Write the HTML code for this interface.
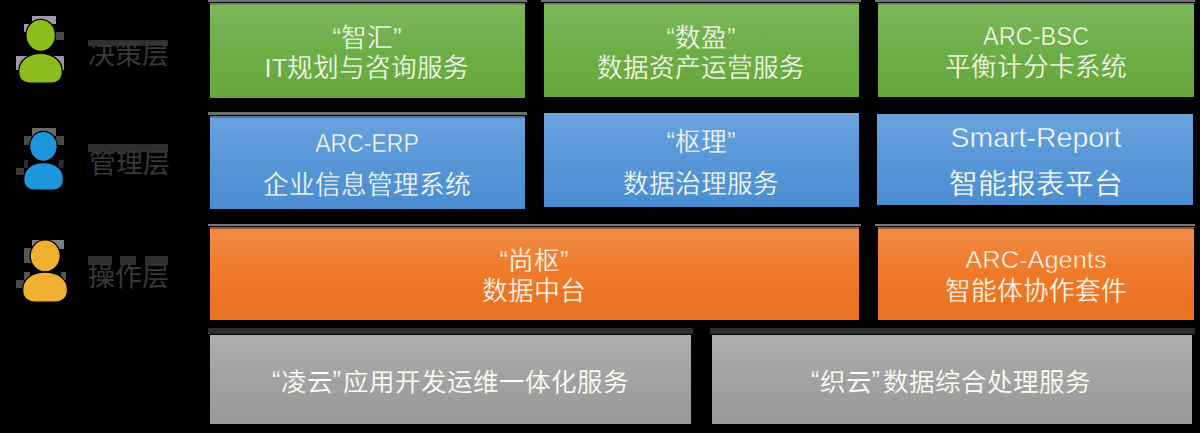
<!DOCTYPE html>
<html lang="zh-CN">
<head>
<meta charset="utf-8">
<style>
html,body{margin:0;padding:0;background:#000;}
body{width:1200px;height:433px;position:relative;overflow:hidden;font-family:"Liberation Sans",sans-serif;}
.strip{position:absolute;}
.box{position:absolute;box-sizing:border-box;}
.g{background:linear-gradient(#7db75c 0%,#6faf49 45%,#66a63a 100%);box-shadow:inset 0 2px #5e9444;}
.b{background:linear-gradient(#6ba2de 0%,#5898d8 45%,#4a8dd0 100%);}
.b1{box-shadow:inset 0 2px #5574a0;}
.o{background:linear-gradient(#ef8c4a 0%,#f07b2a 45%,#e8701f 100%);box-shadow:inset 0 2px #9a5a2a;}
.y{background:linear-gradient(#aeaeae 0%,#a4a4a4 40%,#989898 100%);}
.t{position:absolute;white-space:nowrap;color:#fbfff4;line-height:1;transform:translateX(-50%);}
.lab{position:absolute;white-space:nowrap;color:#383838;font-size:27px;line-height:1;}
.lb{position:absolute;background:#2e2e2e;}
.q{position:relative;top:-1.5px;}
</style>
</head>
<body>
<!-- row 1 strips -->
<div class="strip" style="left:208px;top:0;width:319px;height:2px;background:#787078"></div>
<div class="strip" style="left:541px;top:0;width:320px;height:2px;background:#787078"></div>
<div class="strip" style="left:875px;top:0;width:320px;height:2px;background:#787078"></div>
<!-- row 1 boxes -->
<div class="box g" style="left:210px;top:3px;width:315px;height:94.5px"></div>
<div class="box g" style="left:543.5px;top:3px;width:315.5px;height:94px"></div>
<div class="box g" style="left:877.5px;top:3px;width:316px;height:94px"></div>

<!-- row 2 -->
<div class="strip" style="left:208px;top:112px;width:319px;height:2.7px;background:#6b6f6a"></div>
<div class="box b b1" style="left:210px;top:116px;width:315px;height:92.5px"></div>
<div class="box b" style="left:543.5px;top:113px;width:315.5px;height:93.5px"></div>
<div class="box b" style="left:877px;top:114px;width:316px;height:91px"></div>

<!-- row 3 -->
<div class="strip" style="left:208px;top:224px;width:653px;height:2px;background:#7d767d"></div>
<div class="strip" style="left:875px;top:224px;width:320px;height:2px;background:#7d767d"></div>
<div class="box o" style="left:210px;top:227px;width:649px;height:92.7px"></div>
<div class="box o" style="left:877.5px;top:227px;width:316px;height:92.7px"></div>

<!-- row 4 -->
<div class="strip" style="left:208px;top:328px;width:485px;height:6px;background:#2e2e2e"></div>
<div class="strip" style="left:710px;top:328px;width:485px;height:6px;background:#2e2e2e"></div>
<div class="box y" style="left:210px;top:335px;width:481px;height:89px"></div>
<div class="box y" style="left:711.8px;top:335px;width:480.7px;height:89px"></div>

<!-- texts -->
<div class="t" style="-webkit-text-stroke:0.3px #71b04c;left:367px;top:26.4px;font-size:25.7px"><span class="q">“</span>智汇<span class="q">”</span></div>
<div class="t" style="-webkit-text-stroke:0.3px #6bab42;left:367px;top:56.4px;font-size:25.7px">IT规划与咨询服务</div>
<div class="t" style="-webkit-text-stroke:0.3px #71b04c;left:701px;top:26.4px;font-size:25.7px"><span class="q">“</span>数盈<span class="q">”</span></div>
<div class="t" style="-webkit-text-stroke:0.3px #6bab42;left:701px;top:56.2px;font-size:25.7px">数据资产运营服务</div>
<div class="t" style="-webkit-text-stroke:0.5px #71b04c;left:1035.5px;top:24px;font-size:25.7px;transform:translateX(-50%) scaleX(0.917)">ARC-BSC</div>
<div class="t" style="-webkit-text-stroke:0.3px #6bab42;left:1035.5px;top:55.4px;font-size:25.7px">平衡计分卡系统</div>

<div class="t" style="-webkit-text-stroke:0.5px #5f9cda;left:367px;top:131px;font-size:25.7px;transform:translateX(-50%) scaleX(0.895)">ARC-ERP</div>
<div class="t" style="-webkit-text-stroke:0.3px #5192d4;left:367px;top:172.9px;font-size:25.7px">企业信息管理系统</div>
<div class="t" style="-webkit-text-stroke:0.3px #5f9cda;left:701px;top:130.4px;font-size:25.7px"><span class="q">“</span>枢理<span class="q">”</span></div>
<div class="t" style="-webkit-text-stroke:0.3px #5192d4;left:701px;top:172.2px;font-size:25.7px">数据治理服务</div>
<div class="t" style="-webkit-text-stroke:0.5px #5f9cda;left:1035.5px;top:123.5px;font-size:28px;transform:translateX(-50%) scaleX(1.017)">Smart-Report</div>
<div class="t" style="-webkit-text-stroke:0.3px #5192d4;left:1035.5px;top:169.9px;font-size:28.8px">智能报表平台</div>

<div class="t" style="-webkit-text-stroke:0.3px #f07e30;left:534px;top:249px;font-size:25.7px"><span class="q">“</span>尚枢<span class="q">”</span></div>
<div class="t" style="-webkit-text-stroke:0.3px #ed7625;left:534px;top:279px;font-size:25.7px">数据中台</div>
<div class="t" style="-webkit-text-stroke:0.5px #f07e30;left:1035.5px;top:249px;font-size:23px;transform:translateX(-50%) scaleX(1.105)">ARC-Agents</div>
<div class="t" style="-webkit-text-stroke:0.3px #ed7625;left:1035.5px;top:279.2px;font-size:25.7px">智能体协作套件</div>

<div class="t" style="-webkit-text-stroke:0.15px #a2a2a2;left:450.5px;top:369.7px;font-size:25.5px"><span class="q">“</span>凌云<span class="q" style="margin-right:2px">”</span>应用开发运维一体化服务</div>
<div class="t" style="-webkit-text-stroke:0.15px #a2a2a2;left:951px;top:369.9px;font-size:25.5px"><span class="q">“</span>织云<span class="q" style="margin-right:3px">”</span>数据综合处理服务</div>

<!-- labels -->
<div class="lb" style="left:88px;top:40px;width:80px;height:5.5px"></div>
<div class="lab" style="left:88px;top:42px">决策层</div>
<div class="lb" style="left:88px;top:144px;width:80px;height:7.5px"></div>
<div class="lab" style="left:89px;top:151px">管理层</div>
<div class="lb" style="left:88px;top:256px;width:23.6px;height:9px"></div>
<div class="lb" style="left:120.2px;top:256px;width:15.6px;height:9px"></div>
<div class="lb" style="left:144.5px;top:256px;width:23.7px;height:9px"></div>
<div class="lab" style="left:87.5px;top:263.5px">操作层</div>

<!-- icons -->
<svg style="position:absolute;left:0;top:0" width="80" height="320" viewBox="0 0 80 320">
  <g stroke="#000" stroke-width="1.2">
  <!-- green -->
  <rect x="32" y="16" width="24" height="8" fill="#9a9aa0" stroke="none"/>
  <rect x="24" y="24" width="8" height="8" fill="#a0a0a0" stroke="none"/>
  <rect x="56" y="32" width="8" height="8" fill="#484848" stroke="none"/>
  <rect x="16" y="56" width="48" height="14" fill="#9a9a9a" stroke="none"/>
  <ellipse cx="40.7" cy="35.3" rx="14.8" ry="16" fill="#8cbd1f"/>
  <path d="M18.8 71 C18.8 60.5 28.5 53.4 40.5 53.4 C52.5 53.4 62.2 60.5 62.2 71 L62.2 72.5 C62.2 80 58 83.2 49 83.2 L32 83.2 C23 83.2 18.8 80 18.8 72.5 Z" fill="#8cbd1f"/>
  <!-- blue -->
  <rect x="32" y="128" width="24" height="8" fill="#6a6866" stroke="none"/>
  <rect x="24" y="136" width="8" height="9" fill="#4a4845" stroke="none"/>
  <rect x="56" y="136" width="8" height="9" fill="#4a4845" stroke="none"/>
  <rect x="16" y="168" width="8" height="7" fill="#3e3a38" stroke="none"/>
  <rect x="24" y="160" width="4" height="8" fill="#2e2c2a" stroke="none"/>
  <rect x="58.7" y="160" width="5" height="8" fill="#2e2c2a" stroke="none"/>
  <ellipse cx="43.4" cy="146.3" rx="13.8" ry="15" fill="#1e96dc"/>
  <path d="M23.7 178.5 C23.7 169 32 162.7 43.6 162.7 C55.2 162.7 63.4 169 63.4 178.5 L63.4 179.5 C63.4 187 59.5 190.2 51 190.2 L36 190.2 C27.5 190.2 23.7 187 23.7 179.5 Z" fill="#1e96dc"/>
  <!-- orange -->
  <rect x="32" y="240" width="32" height="9" fill="#7e7e7e" stroke="none"/>
  <rect x="24" y="248" width="8" height="15" fill="#555" stroke="none"/>
  <rect x="24" y="272" width="6" height="8" fill="#555" stroke="none"/>
  <rect x="16" y="280" width="8" height="8" fill="#484848" stroke="none"/>
  <rect x="61" y="272" width="5" height="8" fill="#555" stroke="none"/>
  <ellipse cx="45.2" cy="255.8" rx="15" ry="16" fill="#f0b030"/>
  <path d="M22.7 289.5 C22.7 279 32 272.2 45 272.2 C58 272.2 67.4 279 67.4 289.5 L67.4 290.5 C67.4 298.5 63 302.2 53 302.2 L37 302.2 C27 302.2 22.7 298.5 22.7 290.5 Z" fill="#f0b030"/>
  </g>
</svg>
</body>
</html>
